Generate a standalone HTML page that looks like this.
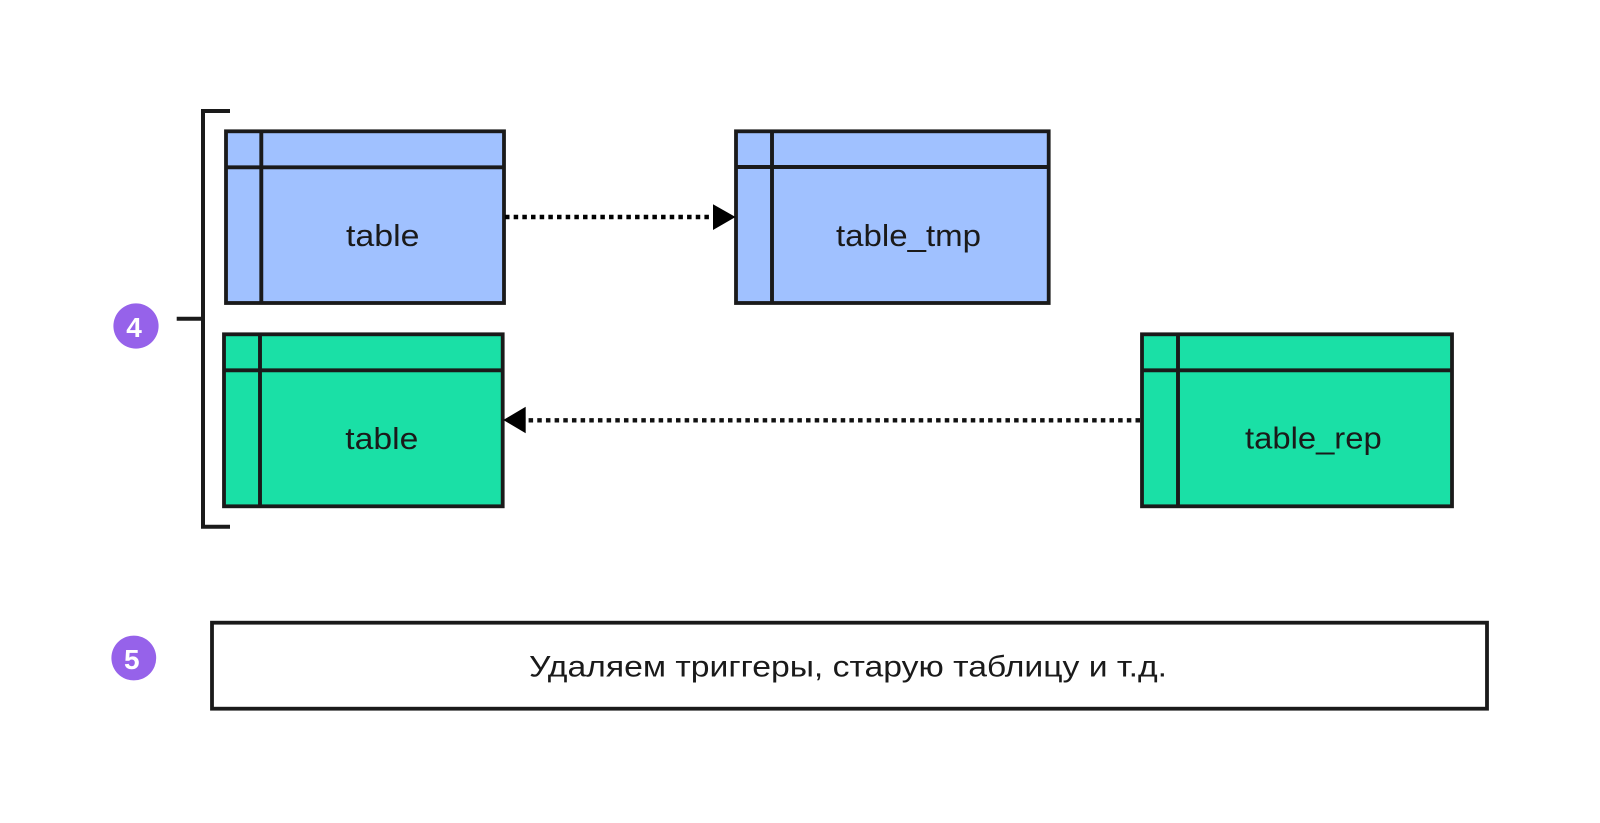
<!DOCTYPE html>
<html>
<head>
<meta charset="utf-8">
<style>
html,body{margin:0;padding:0;background:#fff;width:1600px;height:823px;overflow:hidden}
svg{display:block}
text{font-family:"Liberation Sans","Noto Sans CJK SC",sans-serif;fill:#1a1a1a}
</style>
</head>
<body>
<svg width="1600" height="823" viewBox="0 0 1600 823" xmlns="http://www.w3.org/2000/svg">
<rect width="1600" height="823" fill="#fff"/>

<!-- bracket -->
<path d="M230 111H203V526.7H230M176.7 318.7H203" fill="none" stroke="#1a1a1a" stroke-width="4"/>

<!-- blue table -->
<g fill="none" stroke="#1a1a1a">
<rect x="226" y="131.3" width="278" height="171.7" fill="#a0c1ff" stroke-width="3.8"/>
<path d="M261.3 131V303M226 167.3H504" stroke-width="3.9"/>
</g>
<text x="346" y="246" font-size="31" textLength="73.5" lengthAdjust="spacingAndGlyphs">table</text>

<!-- blue table_tmp -->
<g fill="none" stroke="#1a1a1a">
<rect x="736" y="131.3" width="312.7" height="171.7" fill="#a0c1ff" stroke-width="3.8"/>
<path d="M772 131V303M736 167H1048.7" stroke-width="3.9"/>
</g>
<text x="836" y="246" font-size="31" textLength="145" lengthAdjust="spacingAndGlyphs">table_tmp</text>

<!-- green table -->
<g fill="none" stroke="#1a1a1a">
<rect x="224" y="334.3" width="278.7" height="172" fill="#1ae0a6" stroke-width="3.8"/>
<path d="M260 334V506M224 370.3H502.7" stroke-width="3.9"/>
</g>
<text x="345.3" y="449" font-size="31" textLength="73" lengthAdjust="spacingAndGlyphs">table</text>

<!-- green table_rep -->
<g fill="none" stroke="#1a1a1a">
<rect x="1142" y="334.3" width="310" height="172" fill="#1ae0a6" stroke-width="3.8"/>
<path d="M1178 334V506M1142 370.3H1452" stroke-width="3.9"/>
</g>
<text x="1245" y="448.5" font-size="31" textLength="136.7" lengthAdjust="spacingAndGlyphs">table_rep</text>

<!-- arrows -->
<path d="M505 217H716" fill="none" stroke="#000" stroke-width="4.4" stroke-dasharray="4.5 4.17"/>
<polygon points="713,204.3 735.5,217 713,230" fill="#000"/>
<path d="M1140 420.3H527" fill="none" stroke="#111" stroke-width="4.4" stroke-dasharray="4.5 4.17"/>
<polygon points="503.3,420 525.7,406.7 525.7,433.3" fill="#000"/>

<!-- badges -->
<circle cx="136" cy="326" r="22.6" fill="#9662ea"/>
<text x="134" y="337" font-size="28" font-weight="700" text-anchor="middle" style="fill:#fff">4</text>
<circle cx="133.8" cy="658" r="22.4" fill="#9662ea"/>
<text x="131.8" y="669" font-size="28" font-weight="700" text-anchor="middle" style="fill:#fff">5</text>

<!-- step 5 box -->
<rect x="212" y="622.7" width="1275" height="86" fill="#fff" stroke="#1a1a1a" stroke-width="3.8"/>
<text x="529" y="676.7" font-size="30" textLength="638" lengthAdjust="spacingAndGlyphs">Удаляем триггеры, старую таблицу и т.д.</text>
</svg>
</body>
</html>
